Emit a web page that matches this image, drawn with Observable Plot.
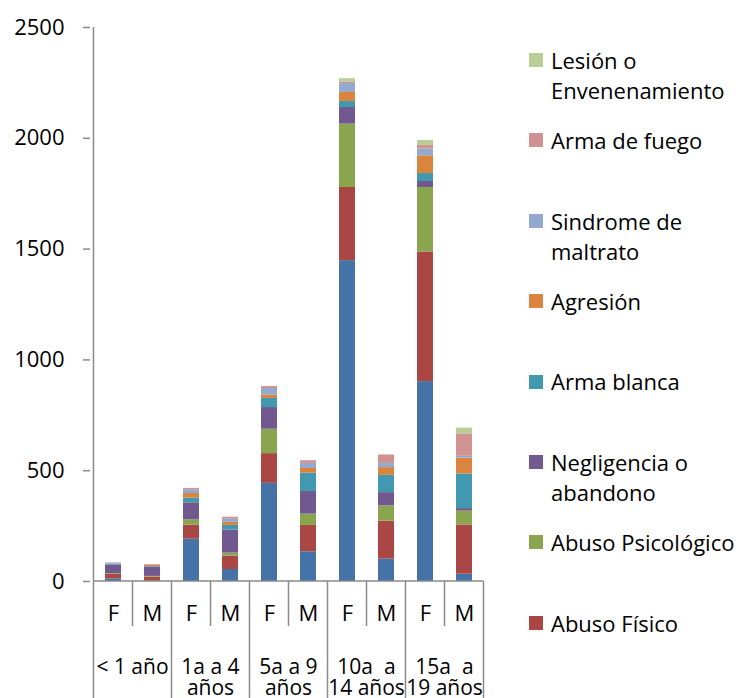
<!DOCTYPE html>
<html>
<head>
<meta charset="utf-8">
<script src="https://cdn.jsdelivr.net/npm/d3@7"></script>
<script src="https://cdn.jsdelivr.net/npm/@observablehq/plot@0.6"></script>
<style>
  body { margin: 0; background: #fff; }
  #wrap { position: relative; width: 746px; height: 698px; overflow: hidden; font-family: "Open Sans", sans-serif; }
  #chart { position: absolute; left: 0; top: 0; }
  #legend { position: absolute; left: 529px; top: 0; width: 217px; height: 698px; }
  .item { position: absolute; left: 0; width: 217px; }
  .swatch { position: absolute; left: 0; width: 14px; height: 14px; }
  .label { position: absolute; left: 22px; width: 194px; font-size: 22px; line-height: 30.5px; color: #000; }
</style>
</head>
<body>
<div id="wrap">
  <div id="chart"></div>
  <div id="legend"></div>
</div>
<script>
// ---- Data ----
const groups = ["< 1 año", "1a a 4 años", "5a a 9 años", "10a  a 14 años", "15a  a 19 años"];
const groupLabels = [["< 1 año"], ["1a a 4", "años"], ["5a a 9", "años"], ["10a  a", "14 años"], ["15a  a", "19 años"]];
const sexes = ["F", "M"];
const yTicks = [0, 500, 1000, 1500, 2000, 2500];

const seriesNames = [
  "Abuso Sexual", "Abuso Físico", "Abuso Psicológico", "Negligencia o abandono",
  "Arma blanca", "Agresión", "Sindrome de maltrato", "Arma de fuego", "Lesión o Envenenamiento"
];
const seriesColors = ["#4572A7", "#AA4643", "#89A54E", "#71588F", "#4198AF", "#DB843D", "#93A9CF", "#D19392", "#B9CD96"];

// order of values: <1 F, <1 M, 1-4 F, 1-4 M, 5-9 F, 5-9 M, 10-14 F, 10-14 M, 15-19 F, 15-19 M
const abusoSexual       = [12, 3, 191, 54, 443, 134, 1448, 101, 902, 33];
const abusoFisico       = [20, 16, 63, 60, 134, 119, 330, 171, 585, 222];
const abusoPsicologico  = [3, 4, 24, 14, 110, 51, 286, 69, 291, 63];
const negligencia       = [39, 42, 77, 104, 98, 102, 75, 60, 27, 11];
const armaBlanca        = [3, 2, 21, 21, 41, 83, 27, 78, 36, 156];
const agresion          = [1, 6, 21, 14, 15, 21, 41, 35, 80, 72];
const sindromeMaltrato  = [5, 2, 17, 14, 30, 23, 40, 19, 30, 8];
const armaFuego         = [1, 2, 6, 9, 9, 12, 7, 38, 17, 101];
const lesion            = [0, 0, 0, 0, 0, 0, 15, 0, 22, 26];
const seriesValues = [abusoSexual, abusoFisico, abusoPsicologico, negligencia, armaBlanca, agresion, sindromeMaltrato, armaFuego, lesion];

// legend entries shown (top to bottom)
const legendShown = ["Lesión o Envenenamiento", "Arma de fuego", "Sindrome de maltrato", "Agresión", "Arma blanca", "Negligencia o abandono", "Abuso Psicológico", "Abuso Físico"];

// ---- Build table ----
const keys = groups.flatMap((g, gi) => sexes.map(s => gi + "|" + s));
const rows = [];
seriesNames.forEach((name, si) => {
  seriesValues[si].forEach((v, i) => rows.push({ key: keys[i], series: name, value: v }));
});

const axisColor = "#8a8a8a";
const W = 746, H = 698;

const plot = Plot.plot({
  width: W,
  height: H,
  marginLeft: 90,
  marginRight: 260,
  marginTop: 27,
  marginBottom: 117,
  style: { fontFamily: "'Open Sans', sans-serif", fontSize: "22px", color: "#000", background: "transparent", overflow: "visible" },
  x: { domain: keys, paddingInner: 0.6, paddingOuter: 0.3, axis: null, label: null },
  y: { domain: [0, 2500], axis: null, label: null },
  color: { domain: seriesNames, range: seriesColors },
  marks: [
    Plot.barY(rows, { x: "key", y: "value", fill: "series" }),
    Plot.axisY({ ticks: yTicks, label: null, tickSize: 7, tickPadding: 19, stroke: axisColor, strokeWidth: 1.5, fill: "#000", fontSize: 22, tickFormat: d => String(d) }),
    Plot.axisX({ label: null, tickSize: 0, tickPadding: 24, fill: "#000", fontSize: 22, tickFormat: k => k.split("|")[1] })
  ]
});

document.getElementById("chart").appendChild(plot);

// ---- Axis lines, separators and group labels from Plot's scales ----
const xs = plot.scale("x"), ys = plot.scale("y");
const step = xs.step, bw = xs.bandwidth;
const leftOf = k => xs.apply(k) - (step - bw) / 2;
const y0 = ys.apply(0), yTop = ys.apply(yTicks[yTicks.length - 1]);
const xStart = leftOf(keys[0]);
const xEnd = leftOf(keys[keys.length - 1]) + step;
const svg = d3.select(plot);
const g = svg.append("g").attr("stroke", axisColor).attr("stroke-width", 1.5).attr("fill", "none");
g.append("line").attr("x1", xStart).attr("x2", xStart).attr("y1", yTop).attr("y2", H);
g.append("line").attr("x1", xStart).attr("x2", xEnd).attr("y1", y0).attr("y2", y0);
for (let i = 1; i <= keys.length; i++) {
  const x = i < keys.length ? leftOf(keys[i]) : xEnd;
  const groupEdge = i % sexes.length === 0;
  g.append("line").attr("x1", x).attr("x2", x).attr("y1", y0).attr("y2", groupEdge ? H : y0 + 45);
}
const tg = svg.append("g").attr("font-size", 21).attr("text-anchor", "middle").attr("fill", "#000").style("white-space", "pre");
groupLabels.forEach((lines, gi) => {
  const cx = leftOf(keys[gi * 2]) + step;
  const t = tg.append("text").attr("x", cx).attr("y", y0 + 93);
  lines.forEach((ln, li) => t.append("tspan").attr("x", cx).attr("y", y0 + 93 + li * 20.5).text(ln));
});

// ---- Legend ----
const legend = d3.select("#legend");
legendShown.forEach((name, i) => {
  const center = 60 + i * 80.4;
  const item = legend.append("div").attr("class", "item").style("top", (center - 15.25) + "px");
  item.append("div").attr("class", "swatch")
    .style("top", (15.25 - 7) + "px")
    .style("background", seriesColors[seriesNames.indexOf(name)]);
  item.append("div").attr("class", "label").style("top", "0px").text(name);
});
</script>
</body>
</html>
